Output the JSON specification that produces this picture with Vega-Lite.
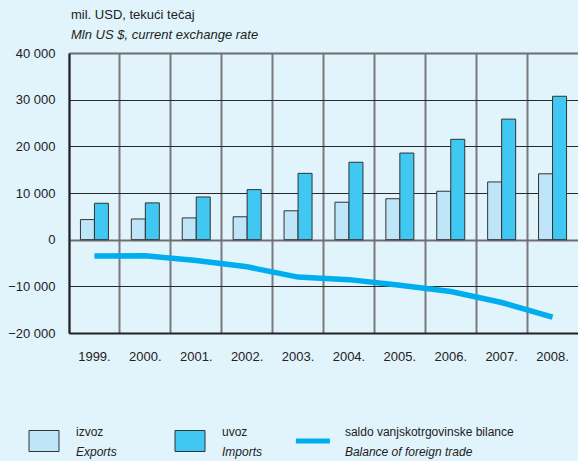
{
  "$schema": "https://vega.github.io/schema/vega-lite/v6.json",
  "background": "#E1F3FB",
  "padding": {"left": 5, "top": 9, "right": 0, "bottom": 0},
  "spacing": 58,
  "resolve": {"scale": {"x": "independent", "xOffset": "independent", "color": "independent", "y": "independent"}},
  "config": {
    "view": {"stroke": null},
    "font": "Liberation Sans",
    "text": {"font": "Liberation Sans"},
    "title": {"fontSize": 13, "subtitleFontSize": 13, "fontWeight": "normal"},
    "style": {"group-title": {"fontSize": 13, "fontWeight": "normal"}, "group-subtitle": {"fontSize": 13}}
  },
  "datasets": {
    "trade": [
      {"year": "1999.", "series": "izvoz", "value": 4302},
      {"year": "1999.", "series": "uvoz", "value": 7799},
      {"year": "2000.", "series": "izvoz", "value": 4432},
      {"year": "2000.", "series": "uvoz", "value": 7887},
      {"year": "2001.", "series": "izvoz", "value": 4666},
      {"year": "2001.", "series": "uvoz", "value": 9147},
      {"year": "2002.", "series": "izvoz", "value": 4904},
      {"year": "2002.", "series": "uvoz", "value": 10722},
      {"year": "2003.", "series": "izvoz", "value": 6187},
      {"year": "2003.", "series": "uvoz", "value": 14209},
      {"year": "2004.", "series": "izvoz", "value": 8024},
      {"year": "2004.", "series": "uvoz", "value": 16589},
      {"year": "2005.", "series": "izvoz", "value": 8773},
      {"year": "2005.", "series": "uvoz", "value": 18560},
      {"year": "2006.", "series": "izvoz", "value": 10377},
      {"year": "2006.", "series": "uvoz", "value": 21502},
      {"year": "2007.", "series": "izvoz", "value": 12364},
      {"year": "2007.", "series": "uvoz", "value": 25830},
      {"year": "2008.", "series": "izvoz", "value": 14112},
      {"year": "2008.", "series": "uvoz", "value": 30728}
    ],
    "saldo": [
      {"year": "1999.", "value": -3497},
      {"year": "2000.", "value": -3455},
      {"year": "2001.", "value": -4481},
      {"year": "2002.", "value": -5818},
      {"year": "2003.", "value": -8022},
      {"year": "2004.", "value": -8565},
      {"year": "2005.", "value": -9787},
      {"year": "2006.", "value": -11125},
      {"year": "2007.", "value": -13466},
      {"year": "2008.", "value": -16616}
    ],
    "legend": [
      {"key": "izvoz", "hr": "izvoz", "en": "Exports"},
      {"key": "uvoz", "hr": "uvoz", "en": "Imports"},
      {"key": "saldo", "hr": "saldo vanjskotrgovinske bilance", "en": "Balance of foreign trade"}
    ]
  },
  "vconcat": [
    {
      "width": 509,
      "height": 280,
      "title": {
        "text": "mil. USD, tekući tečaj",
        "subtitle": "Mln US $, current exchange rate",
        "anchor": "start",
        "frame": "group",
        "fontSize": 13,
        "fontWeight": "normal",
        "font": "Liberation Sans",
        "color": "#222222",
        "subtitleFontSize": 13,
        "subtitleFontStyle": "italic",
        "subtitleFont": "Liberation Sans",
        "subtitleColor": "#222222",
        "subtitlePadding": 7,
        "offset": 5,
        "dx": 2
      },
      "layer": [
        {
          "data": {"name": "trade"},
          "mark": {"type": "bar", "stroke": "#333333", "strokeWidth": 1},
          "encoding": {
            "x": {
              "field": "year",
              "type": "ordinal",
              "scale": {"paddingInner": 0, "paddingOuter": 0},
              "axis": {
                "title": null,
                "labelAngle": 0,
                "labelFontSize": 13,
                "labelColor": "#222222",
                "labelPadding": 17,
                "ticks": false,
                "domainColor": "#222222",
                "domainWidth": 2,
                "grid": true,
                "gridColor": "#7a7a7a",
                "gridWidth": 2,
                "bandPosition": 0
              }
            },
            "xOffset": {
              "field": "series",
              "type": "nominal",
              "scale": {"domain": ["izvoz", "uvoz"], "paddingInner": 0, "paddingOuter": 0.818}
            },
            "y": {
              "field": "value",
              "type": "quantitative",
              "scale": {"domain": [-20000, 40000], "nice": false},
              "axis": {
                "title": null,
                "values": [-20000, -10000, 0, 10000, 20000, 30000, 40000],
                "labelExpr": "replace(format(datum.value, ','), ',', ' ')",
                "labelFontSize": 13,
                "labelColor": "#222222",
                "labelPadding": 14,
                "ticks": false,
                "domainColor": "#222222",
                "domainWidth": 2,
                "grid": true,
                "gridColor": {"expr": "datum.value == 0 || datum.value == 40000 ? '#6e6e6e' : '#2a2a2a'"},
                "gridWidth": {"expr": "datum.value == 0 || datum.value == 40000 ? 2 : 1"},
                "minExtent": 64,
                "maxExtent": 64
              }
            },
            "color": {
              "field": "series",
              "type": "nominal",
              "scale": {"domain": ["izvoz", "uvoz"], "range": ["#BEE6F8", "#40C8F3"]},
              "legend": null
            }
          }
        },
        {
          "data": {"name": "saldo"},
          "mark": {"type": "line", "color": "#00AEEF", "strokeWidth": 5.5, "strokeCap": "butt"},
          "encoding": {
            "x": {"field": "year", "type": "ordinal"},
            "y": {"field": "value", "type": "quantitative"}
          }
        }
      ]
    },
    {
      "width": 509,
      "height": 40,
      "data": {"name": "legend"},
      "encoding": {
        "x": {
          "field": "key",
          "type": "nominal",
          "sort": ["izvoz", "uvoz", "saldo"],
          "scale": {"type": "point", "range": [-32.7, 243.9], "padding": 0},
          "axis": null
        },
        "xOffset": {
          "field": "key",
          "type": "nominal",
          "sort": ["saldo", "izvoz", "uvoz"],
          "scale": {"type": "point", "range": [0, 15.4], "padding": 0}
        }
      },
      "layer": [
        {
          "transform": [{"filter": "datum.key != 'saldo'"}],
          "mark": {"type": "point", "filled": true, "shape": "M-1,-0.7H1V0.7H-1Z", "size": 900, "stroke": "#333333", "strokeWidth": 1, "opacity": 1},
          "encoding": {
            "color": {
              "field": "key",
              "type": "nominal",
              "scale": {"domain": ["izvoz", "uvoz"], "range": ["#BEE6F8", "#40C8F3"]},
              "legend": null
            }
          }
        },
        {
          "transform": [{"filter": "datum.key == 'saldo'"}],
          "mark": {"type": "point", "filled": false, "shape": "M-1,0H1", "size": 1156, "stroke": "#00AEEF", "strokeWidth": 5, "opacity": 1, "strokeCap": "butt"}
        },
        {
          "mark": {"type": "text", "align": "left", "baseline": "middle", "dx": 32, "dy": -9, "fontSize": 12, "color": "#222222", "font": "Liberation Sans"},
          "encoding": {"text": {"field": "hr"}}
        },
        {
          "mark": {"type": "text", "align": "left", "baseline": "middle", "dx": 32, "dy": 11, "fontSize": 12, "fontStyle": "italic", "color": "#222222", "font": "Liberation Sans"},
          "encoding": {"text": {"field": "en"}}
        }
      ]
    }
  ]
}
